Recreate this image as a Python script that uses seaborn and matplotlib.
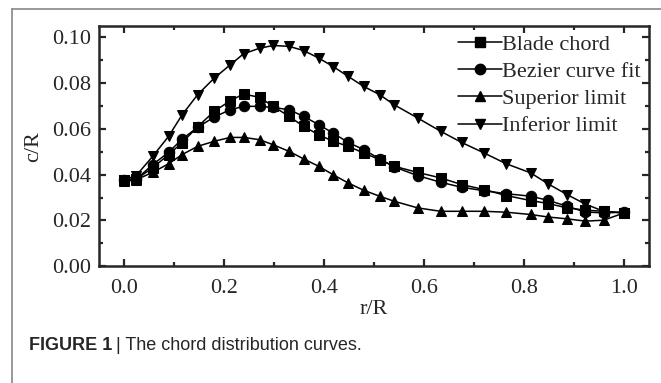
"""Chord distribution curves along the blade span."""

import numpy as np
import pandas as pd
import matplotlib
matplotlib.use("Agg")
import matplotlib.pyplot as plt
from matplotlib.ticker import MultipleLocator
from matplotlib.lines import Line2D
import seaborn as sns

# Data
r_R = [0.0, 0.024, 0.057, 0.089, 0.116, 0.147, 0.18, 0.212, 0.239, 0.271,
       0.298, 0.33, 0.359, 0.389, 0.418, 0.448, 0.479, 0.511, 0.54, 0.587,
       0.633, 0.675, 0.72, 0.764, 0.813, 0.848, 0.886, 0.922, 0.959, 1.0]

blade_chord = [0.0378, 0.0380, 0.0430, 0.0488, 0.0540, 0.0610, 0.0677, 0.0723,
               0.0753, 0.0738, 0.0699, 0.0655, 0.0611, 0.0575, 0.0546, 0.0524,
               0.0495, 0.0466, 0.0437, 0.0410, 0.0386, 0.0357, 0.0335, 0.0309,
               0.0287, 0.0274, 0.0255, 0.0245, 0.0240, 0.0233]

bezier_fit = [0.0378, 0.0380, 0.0444, 0.0498, 0.0556, 0.0607, 0.0652, 0.0684,
              0.0699, 0.0699, 0.0694, 0.0684, 0.0655, 0.0619, 0.0582, 0.0541,
              0.0510, 0.0469, 0.0434, 0.0396, 0.0367, 0.0345, 0.0330, 0.0317,
              0.0306, 0.0288, 0.0262, 0.0237, 0.0233, 0.0236]

superior_limit = [0.0371, 0.0378, 0.0410, 0.0448, 0.0488, 0.0524, 0.0546, 0.0563,
                  0.0563, 0.0553, 0.0531, 0.0502, 0.0469, 0.0437, 0.0400, 0.0364,
                  0.0332, 0.0306, 0.0284, 0.0255, 0.0240, 0.0240, 0.0240, 0.0236,
                  0.0226, 0.0215, 0.0207, 0.0197, 0.0201, 0.0233]

inferior_limit = [0.0378, 0.0396, 0.0480, 0.0568, 0.0662, 0.0750, 0.0822, 0.0880,
                  0.0929, 0.0953, 0.0965, 0.0961, 0.0943, 0.0910, 0.0873, 0.0830,
                  0.0786, 0.0750, 0.0706, 0.0648, 0.0590, 0.0541, 0.0495, 0.0448,
                  0.0408, 0.0360, 0.0313, 0.0272, 0.0240, 0.0233]

SERIES = [
    ("Blade chord", blade_chord, "s"),
    ("Bezier curve fit", bezier_fit, "o"),
    ("Superior limit", superior_limit, "^"),
    ("Inferior limit", inferior_limit, "v"),
]

sns.set_style("ticks")
plt.rcParams['font.family'] = ['Liberation Serif', 'DejaVu Serif']

fig = plt.figure(figsize=(6.61, 3.83), dpi=100)
ax = fig.add_axes([0.150, 0.305, 0.832, 0.627])

for name, vals, mk in SERIES:
    df = pd.DataFrame({'r/R': r_R, 'c/R': vals})
    sns.lineplot(data=df, x='r/R', y='c/R', ax=ax, color='black', lw=1.1,
                 marker=mk, markersize=7.5, markeredgecolor='black',
                 markerfacecolor='black', label=name, legend=False)

ax.set_xlim(-0.05, 1.05)
ax.set_ylim(0.0, 0.105)
ax.xaxis.set_major_locator(MultipleLocator(0.2))
ax.xaxis.set_minor_locator(MultipleLocator(0.1))
ax.yaxis.set_major_locator(MultipleLocator(0.02))
ax.yaxis.set_minor_locator(MultipleLocator(0.01))
ax.xaxis.set_major_formatter(matplotlib.ticker.FormatStrFormatter('%.1f'))
ax.yaxis.set_major_formatter(matplotlib.ticker.FormatStrFormatter('%.2f'))

for sp in ax.spines.values():
    sp.set_visible(True)
    sp.set_linewidth(1.8)
ax.tick_params(which='both', direction='in', top=True, right=True,
               labeltop=False, labelright=False, labelsize=16, width=1.6)
ax.tick_params(axis='x', pad=9)
ax.tick_params(axis='y', pad=6)
ax.tick_params(which='major', length=5)
ax.tick_params(which='minor', length=3)

ax.set_xlabel('r/R', fontsize=16, labelpad=2)
ax.set_ylabel('c/R', fontsize=16, labelpad=6)

handles = [Line2D([], [], color='black', lw=1.1, marker=mk, markersize=7.5)
           for _, _, mk in SERIES]
labels = [name for name, _, _ in SERIES]
ax.legend(handles, labels, loc='upper right', frameon=False, fontsize=16,
          handlelength=2.0, handletextpad=0.0, labelspacing=0.3,
          borderaxespad=0.0, borderpad=0.2, bbox_to_anchor=(0.993, 0.985))

# page frame lines (top and left)
fig.add_artist(Line2D([0.018, 1.0], [0.976, 0.976], transform=fig.transFigure,
                      color='#888888', lw=1.2))
fig.add_artist(Line2D([0.018, 0.018], [0.0, 0.976], transform=fig.transFigure,
                      color='#888888', lw=1.2))

# caption
cap_font = ['Liberation Sans', 'DejaVu Sans']
cap_y = 0.097
t1 = fig.text(0.044, cap_y, 'FIGURE 1', fontsize=13, fontweight='bold',
              family=cap_font, va='center', ha='left')
fig.canvas.draw()
bb = t1.get_window_extent().transformed(fig.transFigure.inverted())
fig.text(bb.x1 + 0.006, cap_y, '| The chord distribution curves.',
         fontsize=13, family=cap_font, va='center', ha='left')

fig.savefig('out.png', dpi=100)
